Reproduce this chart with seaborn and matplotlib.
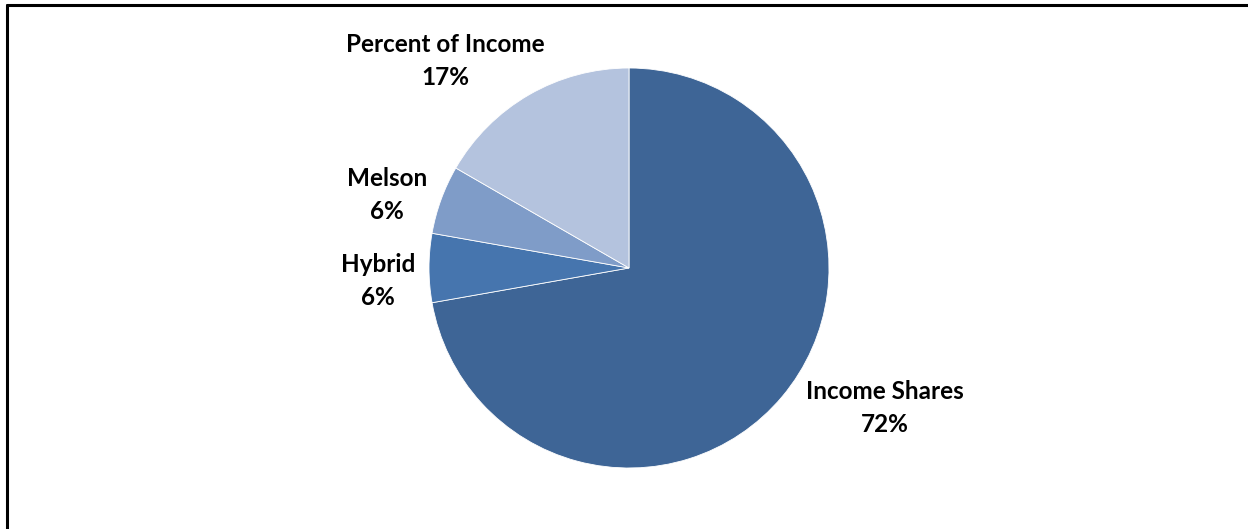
import numpy as np
import seaborn as sns
import matplotlib.pyplot as plt
from matplotlib.lines import Line2D

# guideline models (share of states)
models = ['Income Shares', 'Hybrid', 'Melson', 'Percent of Income']
counts = [13, 1, 1, 3]
colors = ['#3E6596', '#4675AE', '#7F9CC8', '#B4C3DE']

# label placement (x, y) in units of pie radius
label_pos = [(1.28, -0.70), (-1.255, -0.065), (-1.21, 0.365), (-0.92, 1.035)]

sns.set_theme(style='white')
plt.rcParams['font.family'] = ['Lato', 'DejaVu Sans']

fig = plt.figure(figsize=(12.48, 5.29), dpi=100)
ax = fig.add_axes([0, 0, 1, 1])

wedges, _ = ax.pie(counts, colors=colors, startangle=90, counterclock=False,
                   radius=1.0, wedgeprops=dict(edgecolor='white', linewidth=0.6))

total = sum(counts)
for name, c, (lx, ly) in zip(models, counts, label_pos):
    pct = round(100 * c / total)
    ax.text(lx, ly, f'{name}\n{pct}%', ha='center', va='center',
            fontsize=17.5, fontweight='bold', color='black', linespacing=1.5)

# 1 unit = 200 px, pie centre at (629, 268) px from top-left
ax.set_xlim(-629 / 200, (1248 - 629) / 200)
ax.set_ylim(-(529 - 268) / 200, 268 / 200)
ax.set_aspect('auto')
ax.axis('off')

# partial frame along top and left edges
fig.add_artist(Line2D([6.5 / 1248, 1.0], [1 - 5 / 529, 1 - 5 / 529],
                      transform=fig.transFigure, color='black', lw=2.2))
fig.add_artist(Line2D([6.5 / 1248, 6.5 / 1248], [0.0, 1 - 5 / 529],
                      transform=fig.transFigure, color='black', lw=2.2))

fig.savefig('out.png', dpi=100, facecolor='white')
